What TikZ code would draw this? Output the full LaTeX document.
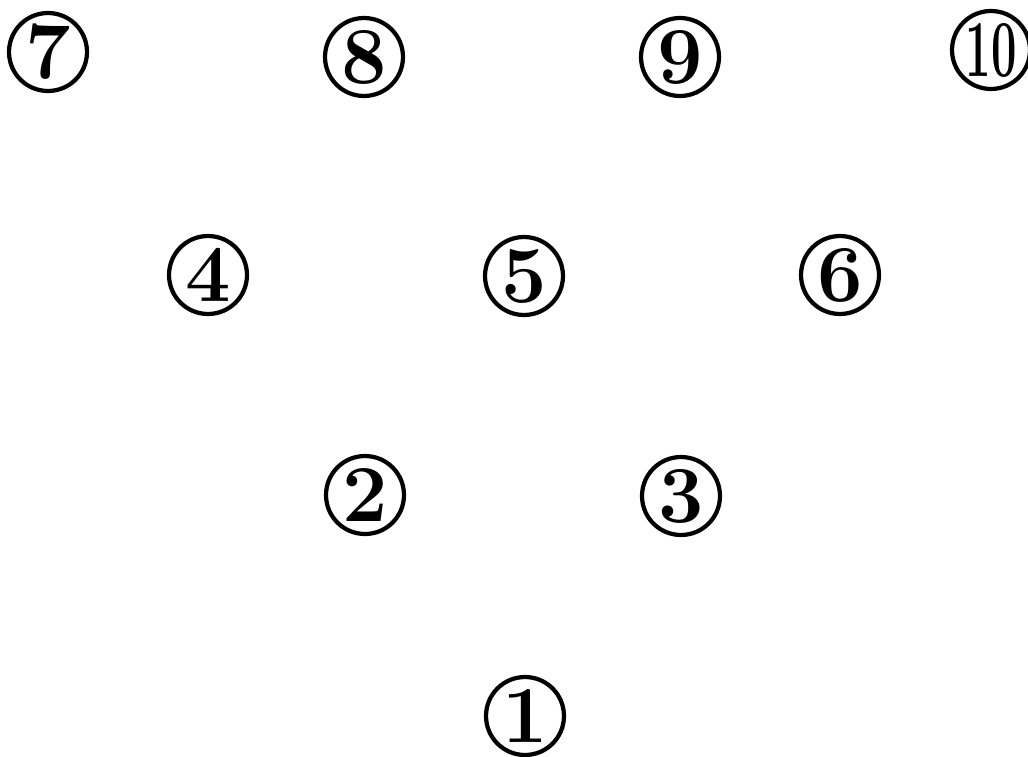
\documentclass[tikz,border=0pt]{standalone}
\usepackage{xcolor,tikz}
\usetikzlibrary{positioning}
\tikzset{numcirc/.style={circle,draw,line width=2.4pt,minimum size=15.6mm,inner sep=0pt,
    font=\fontsize{46}{50}\selectfont\bfseries}}

\begin{document}
\begin{tikzpicture}[x=0.02cm,y=-0.02cm]
\useasboundingbox (0,0) rectangle (1028,757);
\foreach \x/\y/\i in {48/52/7,364/57/8,680/57/9,208/275/4,524/276/5,840/275/6,365/495/2,681/496/3,525/716/1} {
  \node[numcirc] (n\i) at (\x,\y) {\i};}
\node[numcirc] (n10) at (991,50) {\scalebox{0.56}[1]{10}};
\end{tikzpicture}
\end{document}
